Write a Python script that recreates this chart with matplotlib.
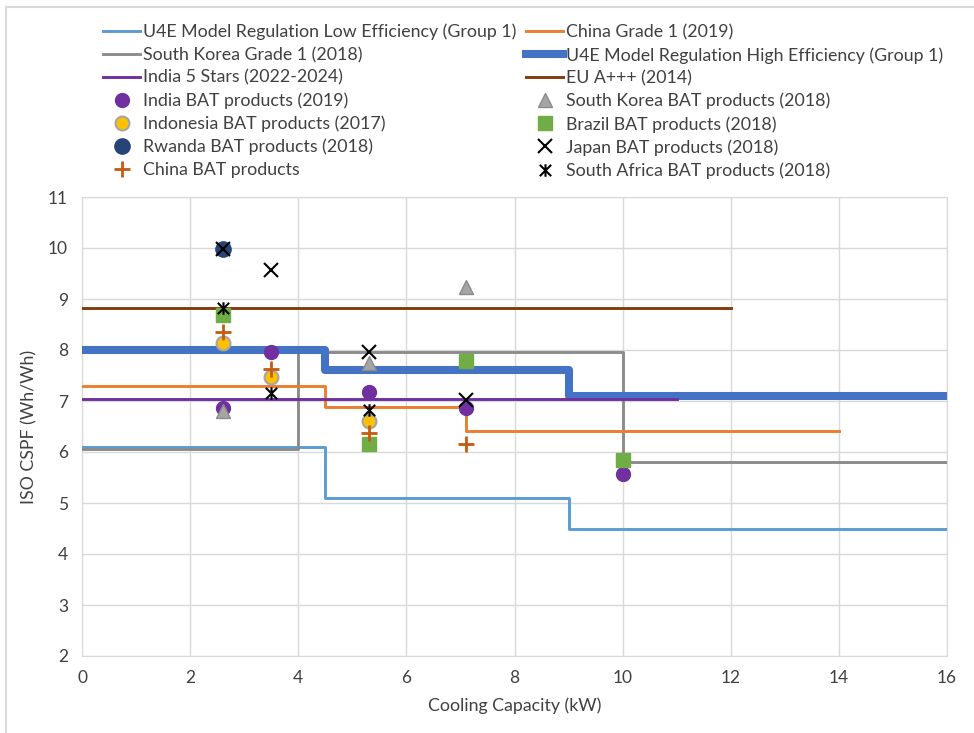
import matplotlib.pyplot as plt
from matplotlib.lines import Line2D
from matplotlib.path import Path

plt.rcParams['font.family'] = ['Lato', 'DejaVu Sans']

# step lines (breakpoints, steps-post)
u4e_low_x = [0, 4.5, 9, 16]
u4e_low_y = [6.1, 5.1, 4.5, 4.5]
china_g1_x = [0, 4.5, 7.1, 14]
china_g1_y = [7.3, 6.88, 6.42, 6.42]
korea_g1_x = [0, 4, 10, 16]
korea_g1_y = [6.06, 7.97, 5.8, 5.8]
u4e_high_x = [0, 4.5, 9, 16]
u4e_high_y = [8.0, 7.6, 7.1, 7.1]
india5_x = [0, 11]
india5_y = [7.04, 7.04]
eu_x = [0, 12]
eu_y = [8.82, 8.82]

# BAT products
india_bat_x = [2.6, 3.5, 5.3, 7.1, 10]
india_bat_y = [6.87, 7.96, 7.18, 6.87, 5.57]
korea_bat_x = [2.6, 5.3, 7.1]
korea_bat_y = [6.8, 7.74, 9.24]
indonesia_bat_x = [2.6, 3.5, 5.3]
indonesia_bat_y = [8.13, 7.47, 6.6]
brazil_bat_x = [2.6, 5.3, 7.1, 10]
brazil_bat_y = [8.68, 6.16, 7.78, 5.84]
rwanda_bat_x = [2.6]
rwanda_bat_y = [9.98]
japan_bat_x = [2.6, 3.5, 5.3, 7.1]
japan_bat_y = [9.98, 9.56, 7.96, 7.01]
china_bat_x = [2.6, 3.5, 5.3, 7.1]
china_bat_y = [8.36, 7.63, 6.37, 6.16]
safrica_bat_x = [2.6, 3.5, 5.3]
safrica_bat_y = [8.82, 7.16, 6.82]

star = Path([(-1, -1), (1, 1), (-1, 1), (1, -1), (0, -1.1), (0, 1.1)],
            [Path.MOVETO, Path.LINETO, Path.MOVETO, Path.LINETO, Path.MOVETO, Path.LINETO])

fig = plt.figure(figsize=(9.74, 7.33), dpi=100)
ax = fig.add_axes([82 / 974, 1 - 656 / 733, 865 / 974, 459 / 733])

lw = 2.1
h_low, = ax.plot(u4e_low_x, u4e_low_y, drawstyle='steps-post', color='#5b9bd5', lw=lw,
                 label='U4E Model Regulation Low Efficiency (Group 1)', zorder=3)
h_kor, = ax.plot(korea_g1_x, korea_g1_y, drawstyle='steps-post', color='#8c8c8c', lw=lw,
                 label='South Korea Grade 1 (2018)', zorder=3)
h_chn, = ax.plot(china_g1_x, china_g1_y, drawstyle='steps-post', color='#ed7d31', lw=lw,
                 label='China Grade 1 (2019)', zorder=3)
h_high, = ax.plot(u4e_high_x, u4e_high_y, drawstyle='steps-post', color='#4472c4', lw=5.8,
                  solid_joinstyle='round', label='U4E Model Regulation High Efficiency (Group 1)', zorder=3)
h_ind, = ax.plot(india5_x, india5_y, color='#7030a0', lw=lw, label='India 5 Stars (2022-2024)', zorder=3)
h_eu, = ax.plot(eu_x, eu_y, color='#843c0c', lw=lw, label='EU A+++ (2014)', zorder=3)

ms = 10
h_ibat, = ax.plot(india_bat_x, india_bat_y, 'o', ms=ms, color='#7030a0', mec='#7030a0',
                  label='India BAT products (2019)', zorder=4)
h_kbat, = ax.plot(korea_bat_x, korea_bat_y, '^', ms=ms, color='#a5a5a5', mec='#8c8c8c',
                  label='South Korea BAT products (2018)', zorder=4)
h_inbat, = ax.plot(indonesia_bat_x, indonesia_bat_y, 'o', ms=ms, color='#ffc000', mec='#a5a5a5',
                   mew=1.5, label='Indonesia BAT products (2017)', zorder=4)
h_bbat, = ax.plot(brazil_bat_x, brazil_bat_y, 's', ms=ms, color='#70ad47', mec='#70ad47',
                  label='Brazil BAT products (2018)', zorder=4)
h_rbat, = ax.plot(rwanda_bat_x, rwanda_bat_y, 'o', ms=ms + 1, color='#264478', mec='#264478',
                  label='Rwanda BAT products (2018)', zorder=4)
h_jbat, = ax.plot(japan_bat_x, japan_bat_y, 'x', ms=ms, color='black', mew=1.5,
                  label='Japan BAT products (2018)', zorder=5)
h_cbat, = ax.plot(china_bat_x, china_bat_y, '+', ms=ms + 1, color='#c55a11', mew=2,
                  label='China BAT products', zorder=5)
h_sbat, = ax.plot(safrica_bat_x, safrica_bat_y, marker=star, ls='none', ms=ms - 1, color='black',
                  mfc='none', mew=1.5, label='South Africa BAT products (2018)', zorder=5)

ax.set_xlim(0, 16)
ax.set_ylim(2, 11)
ax.set_xticks(range(0, 17, 2))
ax.set_yticks(range(2, 12))
ax.grid(True, color='#d9d9d9', lw=1)
ax.set_axisbelow(True)
for s in ax.spines.values():
    s.set_color('#d9d9d9')
ax.tick_params(length=0, labelsize=12.5, colors='#404040', pad=10)
ax.set_xlabel('Cooling Capacity (kW)', fontsize=12.8, color='#404040', labelpad=8)
ax.set_ylabel('ISO CSPF (Wh/Wh)', fontsize=12.8, color='#404040', labelpad=8)

handles = [h_low, h_kor, h_ind, h_ibat, h_inbat, h_rbat, h_cbat,
           h_chn, h_high, h_eu, h_kbat, h_bbat, h_jbat, h_sbat]
fig.legend(handles=handles, labels=[h.get_label() for h in handles], ncol=2,
           loc='upper left', bbox_to_anchor=(94 / 974, 1 - 15 / 733), frameon=False,
           fontsize=12.8, labelcolor='#404040', handlelength=2.1, handletextpad=0.15,
           columnspacing=0.55, labelspacing=0.37, borderpad=0)

# chart area border
fig.add_artist(Line2D([6 / 974, 1], [1 - 7 / 733, 1 - 7 / 733], color='#d9d9d9', lw=1.5))
fig.add_artist(Line2D([6 / 974, 6 / 974], [0, 1 - 7 / 733], color='#d9d9d9', lw=1.5))

fig.savefig('out.png', dpi=100)
